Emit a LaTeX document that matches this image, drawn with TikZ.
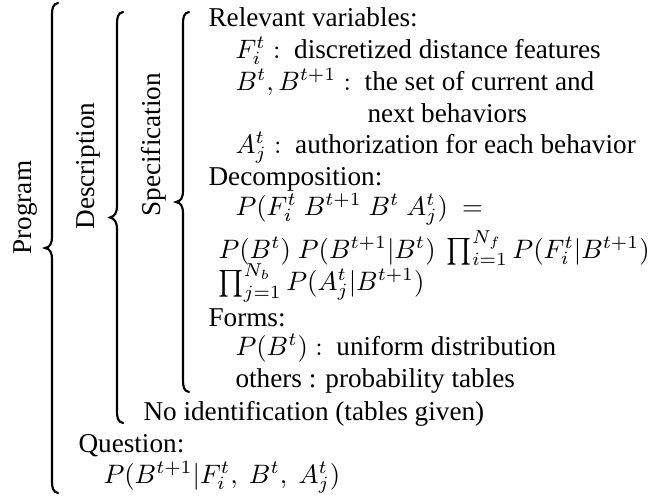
\documentclass[tikz,border=0pt]{standalone}
\usepackage[no-math]{fontspec}
\setmainfont{Liberation Serif}
\begin{document}
\begin{tikzpicture}[x=0.375pt,y=-0.375pt,
  txt/.style={anchor=base west,inner sep=0pt,font=\fontsize{10.2}{12}\selectfont},
  rot/.style={txt,rotate=90},
  bracestroke/.style={line width=0.8pt,line cap=round}]
\useasboundingbox (0,0) rectangle (672,497);
% rotated labels
\node[rot] (prog) at (31,255) {Program};
\node[rot] (desc) at (95,230) {Description};
\node[rot] (spec) at (160,217) {Specification};
% braces
\draw[bracestroke] (58,3) .. controls (53,4) and (52,8) .. (52,15) -- (52,236)
  .. controls (52,244) and (50,247) .. (45,248) .. controls (50,249) and (52,252) .. (52,260)
  -- (52,481) .. controls (52,488) and (53,492) .. (58,493);
\draw[bracestroke] (123,12) .. controls (118,13) and (117,17) .. (117,24) -- (117,205)
  .. controls (117,213) and (115,216) .. (110,217.5) .. controls (115,219) and (117,222) .. (117,230)
  -- (117,411) .. controls (117,418) and (118,422) .. (123,423);
\draw[bracestroke] (189,12) .. controls (184,13) and (183,17) .. (183,24) -- (183,190)
  .. controls (183,198) and (181,201) .. (176,202) .. controls (181,203) and (183,206) .. (183,214)
  -- (183,380) .. controls (183,387) and (184,391) .. (189,392);
% text lines
\node[txt] (rel) at (208,26) {Relevant variables:};
\node[txt] (fvar) at (235,58) {$F_i^t:$\ \ discretized distance features};
\node[txt] (bvar) at (235,90) {$B^t,B^{t+1}:$\ \ the set of current and};
\node[txt] (next) at (367,122) {next behaviors};
\node[txt] (avar) at (235,153) {$A_j^t:$\ \ authorization for each behavior};
\node[txt] (dec) at (208,185) {Decomposition:};
\node[txt] (pf) at (235,215) {$P(F_i^t\ B^{t+1}\ B^t\ A_j^t)\ =$};
\node[txt] (pb) at (218,258) {$P(B^t)\ P(B^{t+1}|B^t)\ \prod_{i=1}^{N_f}P(F_i^t|B^{t+1})$};
\node[txt] (prod) at (218,290) {$\prod_{j=1}^{N_b}P(A_j^t|B^{t+1})$};
\node[txt] (forms) at (208,326) {Forms:};
\node[txt] (unif) at (235,355) {$P(B^t):$\ \ uniform distribution};
\node[txt] (oth) at (235,387) {others : probability tables};
\node[txt] (noid) at (143,420) {No identification (tables given)};
\node[txt] (quest) at (78,452) {Question:};
\node[txt] (pq) at (103,483) {$P(B^{t+1}|F_i^t,\ B^t,\ A_j^t)$};
\end{tikzpicture}
\end{document}
